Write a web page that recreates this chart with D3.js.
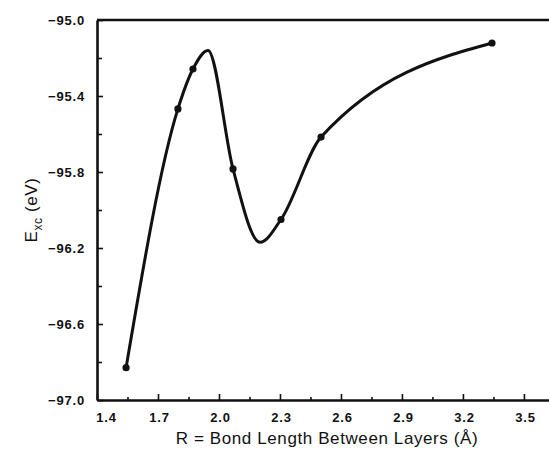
<!DOCTYPE html>
<html>
    <head>
        <meta charset="UTF-8">
        <title>Exc vs bond length</title>
        <style>
            body {margin:0; background:#fff;}
            svg {display:block;}
            text {font-family:"Liberation Sans", Arial, sans-serif; fill:#111;}
            .tick text {font-size:13px; letter-spacing:0.8px; font-weight:bold;}
            .domain {stroke:#111; stroke-width:2.6px;}
            .tick line {stroke:#111; stroke-width:1.6px;}
        </style>
        <script src="https://cdn.jsdelivr.net/npm/d3@7"></script>
    </head>
    <body>
        <svg width="549" height="449"></svg>
        <script>
            // values
            var bondLength = [1.543, 1.798, 1.872, 2.069, 2.305, 2.502, 3.343];
            var exc = [-96.83, -95.468, -95.258, -95.784, -96.05, -95.616, -95.121];
            // turning points of the drawn fit curve (max, min), also
            var extremaR = [1.946, 2.202];
            var extremaE = [-95.16, -96.17];
            var xTicks = [1.4, 1.7, 2.0, 2.3, 2.6, 2.9, 3.2, 3.5];
            var yTicks = [-95.0, -95.4, -95.8, -96.2, -96.6, -97.0];

            var svg = d3.select("svg");
            var mLeft = 97, mRight = 549, mTop = 20, mBottom = 400;

            var x = d3.scaleLinear().domain([1.4, 3.6233]).range([mLeft, mRight]);
            var y = d3.scaleLinear().domain([-97, -95]).range([mBottom, mTop]);

            //... minor ticks first, under the major ones
            svg.append("g")
                .attr("transform", "translate(0," + mBottom + ")")
                .call(d3.axisTop(x).tickValues(d3.range(1.55, 3.62, 0.3)).tickSize(3).tickFormat(""))
                .call(g => g.select(".domain").remove());
            svg.append("g")
                .attr("transform", "translate(" + mLeft + ",0)")
                .call(d3.axisRight(y).tickValues(d3.range(-96.8, -95.1, 0.4)).tickSize(5).tickFormat(""))
                .call(g => g.select(".domain").remove());

            var xa = svg.append("g")
                .attr("transform", "translate(0," + mBottom + ")")
                .call(d3.axisTop(x).tickValues(xTicks).tickSize(6).tickSizeOuter(0).tickFormat(d3.format(".1f")));
            xa.selectAll(".tick text")
                .attr("y", 17).attr("dy", "0.35em")
                .attr("dx", (d, i) => i == 0 ? 9 : 1);

            var ya = svg.append("g")
                .attr("transform", "translate(" + mLeft + ",0)")
                .call(d3.axisRight(y).tickValues(yTicks).tickSize(6).tickSizeOuter(0).tickFormat(d3.format(".1f")));
            ya.selectAll(".tick text")
                .attr("x", -12).attr("text-anchor", "end");

            // top frame line
            svg.append("line")
                .attr("x1", mLeft).attr("x2", mRight)
                .attr("y1", y(-95)).attr("y2", y(-95))
                .style("stroke", "#111").style("stroke-width", 2.6);

            var pts = bondLength.map((v, i) => [v, exc[i]]);
            var curvePts = pts.concat(extremaR.map((v, i) => [v, extremaE[i]]))
                .sort((a, b) => a[0] - b[0]);

            var line = d3.line()
                .x(d => x(d[0]))
                .y(d => y(d[1]))
                .curve(d3.curveMonotoneX);

            svg.append("path")
                .datum(curvePts)
                .attr("d", line)
                .style("fill", "none")
                .style("stroke", "#111")
                .style("stroke-width", 3);

            svg.selectAll("circle.pt")
                .data(pts)
                .enter()
                .append("circle")
                .attr("class", "pt")
                .attr("cx", d => x(d[0]))
                .attr("cy", d => y(d[1]))
                .attr("r", 3.6)
                .style("fill", "#111");

            svg.append("text")
                .attr("x", 327).attr("y", 444)
                .attr("text-anchor", "middle")
                .style("font-size", "17px")
                .style("letter-spacing", "0.6px")
                .text("R = Bond Length Between Layers (Å)");

            var yl = svg.append("text")
                .attr("transform", "translate(37,210) rotate(-90)")
                .attr("text-anchor", "middle")
                .style("font-size", "17px")
                .style("letter-spacing", "0.6px");
            yl.append("tspan").text("E");
            yl.append("tspan").attr("dy", 5).style("font-size", "12px").text("xc");
            yl.append("tspan").attr("dy", -5).text(" (eV)");
        </script>
    </body>
</html>
